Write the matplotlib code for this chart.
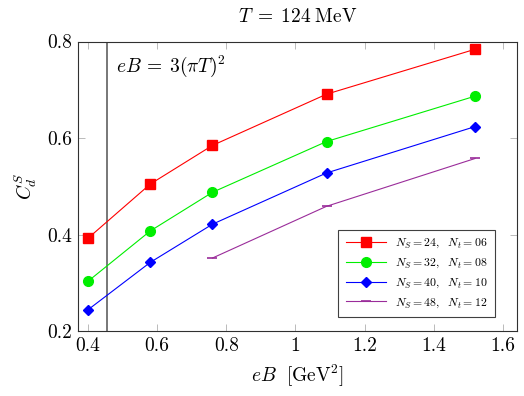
import matplotlib
matplotlib.use("Agg")
import matplotlib.pyplot as plt

plt.rcParams['font.family'] = 'serif'
plt.rcParams['font.serif'] = ['cmr10', 'DejaVu Serif']
plt.rcParams['mathtext.fontset'] = 'cm'
plt.rcParams['axes.formatter.use_mathtext'] = True

# data
eB_24 = [0.40, 0.58, 0.76, 1.09, 1.52]
C_24 = [0.393, 0.505, 0.585, 0.691, 0.784]
eB_32 = [0.40, 0.58, 0.76, 1.09, 1.52]
C_32 = [0.304, 0.408, 0.488, 0.593, 0.687]
eB_40 = [0.40, 0.58, 0.76, 1.09, 1.52]
C_40 = [0.245, 0.343, 0.422, 0.528, 0.624]
eB_48 = [0.76, 1.09, 1.52]
C_48 = [0.352, 0.459, 0.558]
T_GeV = 0.124
eB_line = 3 * (3.141592653589793 * T_GeV) ** 2

xticks = [0.4, 0.6, 0.8, 1.0, 1.2, 1.4, 1.6]
xticklabels = ['0.4', '0.6', '0.8', '1', '1.2', '1.4', '1.6']
yticks = [0.2, 0.4, 0.6, 0.8]
yticklabels = ['0.2', '0.4', '0.6', '0.8']

fig = plt.figure(figsize=(5.24, 3.96), dpi=100)
ax = fig.add_axes([0.1489, 0.1629, 0.9866 - 0.1489, 0.8952 - 0.1629])

lw = 0.8
ax.axvline(eB_line, color='#606060', lw=1.2, zorder=1)
ax.plot(eB_24, C_24, color='red', lw=lw, marker='s', ms=6.5, mec='red', mfc='red',
        label=r'$N_S = 24,\ \ N_t = 06$')
ax.plot(eB_32, C_32, color='#00ee00', lw=lw, marker='o', ms=7, mec='#00ee00', mfc='#00ee00',
        label=r'$N_S = 32,\ \ N_t = 08$')
ax.plot(eB_40, C_40, color='blue', lw=lw, marker='D', ms=4.6, mec='blue', mfc='blue',
        label=r'$N_S = 40,\ \ N_t = 10$')
ax.plot(eB_48, C_48, color='#9a2c9a', lw=lw, marker='_', ms=7, mew=1.2,
        label=r'$N_S = 48,\ \ N_t = 12$')

ax.set_xlim(0.371, 1.641)
ax.set_ylim(0.2, 0.8)
ax.set_xticks(xticks)
ax.set_xticklabels(xticklabels)
ax.set_yticks(yticks)
ax.set_yticklabels(yticklabels)
ax.tick_params(direction='in', top=True, right=True, length=5, width=0.5,
               color='#a0a0a0', labelsize=14, pad=4)
for s in ax.spines.values():
    s.set_linewidth(0.8)
    s.set_color('#303030')

ax.set_title(r'$T\;=\;124\;\mathrm{MeV}$', fontsize=14, pad=14)
ax.set_xlabel(r'$eB\ \ [\mathrm{GeV}^2]$', fontsize=14, labelpad=6)
ax.set_ylabel(r'$C_d^S$', fontsize=14, labelpad=6)
ax.text(0.482, 0.737, r'$eB\,=\;3(\pi T)^2$', fontsize=14, ha='left', va='baseline')

leg = ax.legend(loc='lower right', fontsize=8.5, fancybox=False, edgecolor='#404040',
                framealpha=1, handlelength=3.4, borderpad=0.6, labelspacing=0.55,
                bbox_to_anchor=(0.963, 0.03))
leg.get_frame().set_linewidth(0.8)

fig.savefig('out.png', dpi=100)
